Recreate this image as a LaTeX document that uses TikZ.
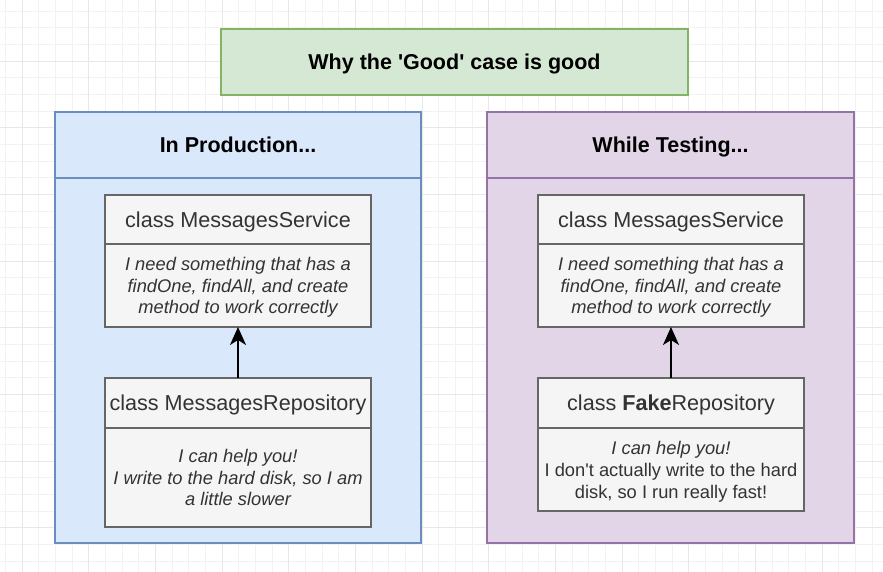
\documentclass[tikz,border=0pt]{standalone}
\usepackage{fontspec}
\setmainfont{Liberation Sans}
\usetikzlibrary{positioning,arrows.meta}

\definecolor{goodfill}{HTML}{D5E8D4}
\definecolor{goodline}{HTML}{82B366}
\definecolor{prodfill}{HTML}{DAE8FC}
\definecolor{prodline}{HTML}{6C8EBF}
\definecolor{testfill}{HTML}{E1D5E7}
\definecolor{testline}{HTML}{9673A6}
\definecolor{classfill}{HTML}{F5F5F5}
\definecolor{classline}{HTML}{666666}
\definecolor{classtext}{HTML}{333333}

\tikzset{
    box/.style={rectangle, draw, line width=1.5pt, inner sep=0pt, outer sep=0pt, align=center,
        text depth=0pt},
    headtext/.style={font=\fontsize{21.5}{25}\selectfont\bfseries},
    classtitle/.style={box, fill=classfill, draw=classline, text=classtext,
        minimum width=266, minimum height=49, font=\fontsize{21.6}{25}\selectfont},
    classbody/.style={box, fill=classfill, draw=classline, text=classtext,
        minimum width=266, font=\fontsize{18.3}{21.5}\selectfont\itshape},
    dep/.style={line width=2pt, -{Stealth[length=18pt, width=16pt, inset=5pt]}},
    gridminor/.style={line width=0.6pt, color=black!5},
    gridmajor/.style={line width=0.8pt, color=black!9}
}

\begin{document}
\begin{tikzpicture}[x=1pt, y=-1pt]
    \useasboundingbox[fill=white] (0,0) rectangle (883,572);
    % Grid
    \foreach \i in {0,...,53}
    {
    \draw[gridminor] ({5.33+16.667*\i},0) -- ++(0,572);
    }
    \foreach \i in {0,...,34}
    {
    \draw[gridminor] (0,{-5.67+16.667*\i}) -- ++(883,0);
    }
    \foreach \i in {0,...,13}
    {
    \draw[gridmajor] ({22+66.667*\i},0) -- ++(0,572);
    }
    \foreach \i in {0,...,8}
    {
    \draw[gridmajor] (0,{-5.67+66.667*\i}) -- ++(883,0);
    }
    % Title
    \node[box, headtext, fill=goodfill, draw=goodline, minimum width=467, minimum height=66]
        (title) at (454.5,62) {Why the \textquotesingle Good\textquotesingle{} case is good};
    % Containers
    \node[box, headtext, fill=prodfill, draw=prodline, minimum width=366, minimum height=66]
        (prodhead) at (238,145) {In Production...};
    \node[box, fill=prodfill, draw=prodline, minimum width=366, minimum height=365,
        below=0pt of prodhead] (prodbody) {};
    \node[box, headtext, fill=testfill, draw=testline, minimum width=367, minimum height=66]
        (testhead) at (670.5,145) {While Testing...};
    \node[box, fill=testfill, draw=testline, minimum width=367, minimum height=365,
        below=0pt of testhead] (testbody) {};
    % Production classes
    \node[classtitle] (prodsvc) at (238,219.5) {class MessagesService};
    \node[classbody, minimum height=83, below=0pt of prodsvc] (prodsvcbody)
        {I need something that has a\\findOne, findAll, and create\\method to work correctly};
    \node[classtitle, minimum height=50] (prodrepo) at (238,403) {class MessagesRepository};
    \node[classbody, minimum height=99, below=0pt of prodrepo] (prodrepobody)
        {I can help you!\\I write to the hard disk, so I am\\a little slower};
    % Testing classes
    \node[classtitle] (testsvc) at (671,219.5) {class MessagesService};
    \node[classbody, minimum height=83, below=0pt of testsvc] (testsvcbody)
        {I need something that has a\\findOne, findAll, and create\\method to work correctly};
    \node[classtitle, minimum height=50] (testrepo) at (671,403) {class \textbf{Fake}Repository};
    \node[classbody, minimum height=83, below=0pt of testrepo, font=\fontsize{18.3}{22}\selectfont]
        (testrepobody)
        {\textit{I can help you!}\\I don\textquotesingle t actually write to the hard\\disk, so I run really fast!};
    % Dependencies
    \draw[dep] (prodrepo) -- (prodsvcbody);
    \draw[dep] (testrepo) -- (testsvcbody);
\end{tikzpicture}
\end{document}
